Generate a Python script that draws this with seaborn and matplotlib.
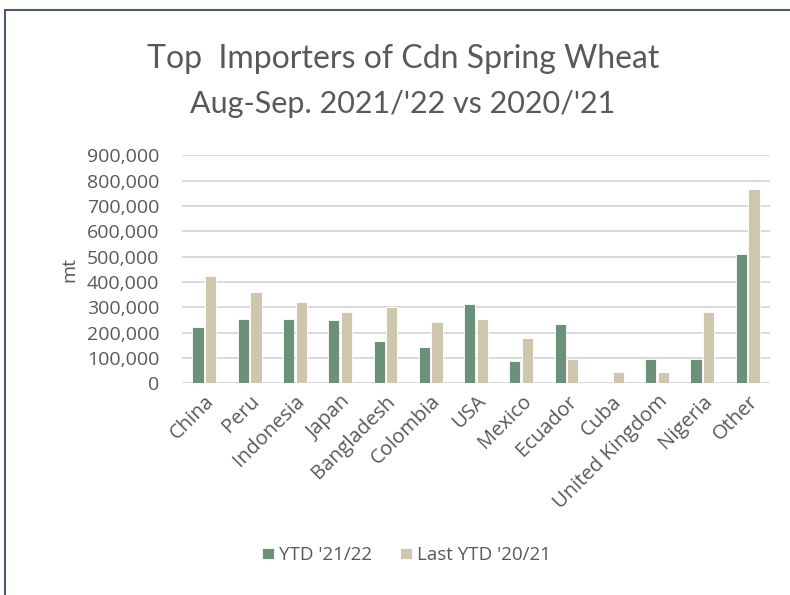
import pandas as pd
import numpy as np
import seaborn as sns
import matplotlib.pyplot as plt
from matplotlib.patches import Rectangle
from matplotlib.ticker import FuncFormatter

# Data (mt)
countries = ['China', 'Peru', 'Indonesia', 'Japan', 'Bangladesh', 'Colombia', 'USA',
             'Mexico', 'Ecuador', 'Cuba', 'United Kingdom', 'Nigeria', 'Other']
ytd_21_22 = [223000, 254000, 254000, 250000, 165000, 144000, 312000,
             86000, 234000, 0, 97000, 97000, 511000]
ytd_20_21 = [423000, 360000, 322000, 281000, 302000, 243000, 254000,
             180000, 97000, 45000, 45000, 281000, 768000]
series_names = ["YTD '21/22", "Last YTD '20/21"]
colors = ['#66977a', '#d4caa8']

df = pd.DataFrame({
    'country': countries * 2,
    'mt': ytd_21_22 + ytd_20_21,
    'series': [series_names[0]] * len(countries) + [series_names[1]] * len(countries),
})

sns.set_style('white')
plt.rcParams['font.family'] = ['Open Sans', 'DejaVu Sans']
text_col = '#595959'

fig = plt.figure(figsize=(7.9, 5.95), dpi=100)
ax = fig.add_axes([0.230, 0.356, 0.745, 0.383])

sns.barplot(data=df, x='country', y='mt', hue='series', palette=colors,
            width=0.56, gap=0.12, edgecolor='white', linewidth=0.6, ax=ax, zorder=3)

ax.set_ylim(0, 900000)
ax.set_xlim(-0.5, len(countries) - 0.5)
ax.set_yticks(np.arange(0, 900001, 100000))
ax.yaxis.set_major_formatter(FuncFormatter(lambda v, p: '{:,.0f}'.format(v)))
ax.grid(axis='y', color='#d9d9d9', linewidth=1.4, zorder=0)
ax.set_axisbelow(True)
for s in ax.spines.values():
    s.set_visible(False)

ax.tick_params(axis='y', labelsize=14, colors=text_col, length=0, pad=16)
ax.tick_params(axis='x', labelsize=14.5, colors=text_col, length=0, pad=6)
plt.setp(ax.get_xticklabels(), rotation=45, ha='right', rotation_mode='anchor')
ax.set_xlabel('')
ax.set_ylabel('mt', fontsize=14, color=text_col, labelpad=6)

ax.get_legend().remove()
handles, labels = ax.get_legend_handles_labels()
fig.legend(handles, labels, loc='center', bbox_to_anchor=(0.515, 0.067), ncol=2,
           frameon=False, fontsize=13.5, handlelength=0.6, handleheight=0.6,
           columnspacing=1.5, handletextpad=0.3, labelcolor=text_col)

fig.text(0.51, 0.90, 'Top  Importers of Cdn Spring Wheat', ha='center', va='center',
         fontsize=23, color=text_col, family=['Lato', 'DejaVu Sans'])
fig.text(0.51, 0.825, "Aug-Sep. 2021/'22 vs 2020/'21", ha='center', va='center',
         fontsize=22, color=text_col, family=['Lato', 'DejaVu Sans'])

# chart border
fig.patches.append(Rectangle((0.006, -0.01), 1.2, 0.994, transform=fig.transFigure,
                             fill=False, edgecolor='#4a5a70', linewidth=1.5))

fig.savefig('out.png', dpi=100)
